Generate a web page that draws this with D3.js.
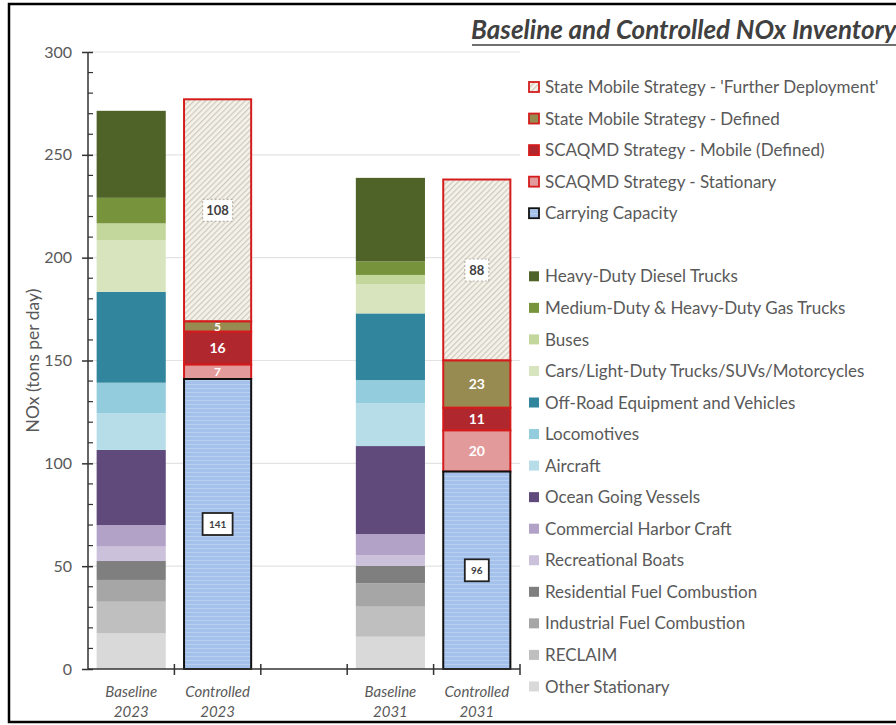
<!DOCTYPE html>
<html>
<head>
<meta charset="utf-8">
<script src="https://cdn.jsdelivr.net/npm/d3@7"></script>
<style>
  body { margin: 0; background: #fff; }
  svg { display: block; font-family: Lato, "Open Sans", sans-serif; }
</style>
</head>
<body>
<div id="plotSect"></div>
<script>
// Chart data (tons per day), stacks listed bottom to top //

let barKeys = ["b2023", "c2023", "gap", "b2031", "c2031"];
let barLabels = {
    b2023: ["Baseline", "2023"],
    c2023: ["Controlled", "2023"],
    b2031: ["Baseline", "2031"],
    c2031: ["Controlled", "2031"]
};

let baselineSources = [
    "Other Stationary", "RECLAIM", "Industrial Fuel Combustion", "Residential Fuel Combustion",
    "Recreational Boats", "Commercial Harbor Craft", "Ocean Going Vessels", "Aircraft",
    "Locomotives", "Off-Road Equipment and Vehicles", "Cars/Light-Duty Trucks/SUVs/Motorcycles",
    "Buses", "Medium-Duty & Heavy-Duty Gas Trucks", "Heavy-Duty Diesel Trucks"
];
let baselineColors = [
    "#d9d9d9", "#bfbfbf", "#a6a6a6", "#7f7f7f",
    "#ccc1da", "#b3a2c7", "#604a7b", "#b7dee8",
    "#93cddd", "#31859c", "#d7e4bd",
    "#c3d69b", "#77933c", "#4f6228"
];
let baseline2023 = [17.3, 15.4, 10.6, 9.2, 7.0, 10.5, 36.5, 17.8, 14.9, 44.2, 25.0, 8.3, 12.4, 42.3];
let baseline2031 = [15.7, 14.6, 11.4, 8.4, 5.3, 10.2, 42.8, 20.8, 11.3, 32.4, 14.3, 4.4, 6.6, 40.6];

let controlledSources = [
    "Carrying Capacity", "SCAQMD Strategy - Stationary", "SCAQMD Strategy - Mobile (Defined)",
    "State Mobile Strategy - Defined", "State Mobile Strategy - 'Further Deployment'"
];
let controlledFills = ["url(#stripes)", "#e39a9b", "#b0272d", "#978b52", "url(#hatch)"];
let controlledStrokes = ["#111", "#d41c1c", "#d41c1c", "#d41c1c", "#d41c1c"];
let controlled2023 = [141, 7, 16, 5, 108];
let controlled2031 = [96, 20, 11, 23, 88];

let yTicks = [0, 50, 100, 150, 200, 250, 300];

// Chart setup //

let SVGwidth = 896, SVGheight = 725;
let plotLeft = 88, plotRight = 520, plotTop = 52, plotBottom = 669;

let svg = d3.select("#plotSect").append("svg")
    .attr("width", SVGwidth)
    .attr("height", SVGheight);

let defs = svg.append("defs");
let stripes = defs.append("pattern")
    .attr("id", "stripes")
    .attr("patternUnits", "userSpaceOnUse")
    .attr("width", 8).attr("height", 4);
stripes.append("rect").attr("width", 8).attr("height", 4).attr("fill", "#a4c1eb");
stripes.append("rect").attr("y", 0).attr("width", 8).attr("height", 1).attr("fill", "#bad0f1");

let hatch = defs.append("pattern")
    .attr("id", "hatch")
    .attr("patternUnits", "userSpaceOnUse")
    .attr("width", 4).attr("height", 4)
    .attr("patternTransform", "rotate(-45)");
hatch.append("rect").attr("width", 4).attr("height", 4).attr("fill", "#f4f2ea");
hatch.append("rect").attr("width", 4).attr("height", 1.2).attr("fill", "#cfc9bb");

// outer frame
svg.append("rect")
    .attr("x", 9).attr("y", 4)
    .attr("width", 900).attr("height", 718)
    .attr("fill", "none")
    .attr("stroke", "#000")
    .attr("stroke-width", 2.5);

let xScale = d3.scaleBand()
    .domain(barKeys)
    .range([plotLeft, plotRight])
    .paddingInner(0.2)
    .paddingOuter(0.1);

let yScale = d3.scaleLinear()
    .domain([0, 300])
    .range([plotBottom, plotTop]);

// gridlines
svg.append("g")
    .selectAll("line")
    .data(yTicks.slice(1))
    .enter().append("line")
    .attr("x1", plotLeft).attr("x2", plotRight)
    .attr("y1", function(d) { return yScale(d); })
    .attr("y2", function(d) { return yScale(d); })
    .attr("stroke", "#e3e3e3")
    .attr("stroke-width", 1.2);

// stacked bars
let baselineRows = [
    Object.assign({bar: "b2023"}, Object.fromEntries(baselineSources.map(function(s, i) { return [s, baseline2023[i]]; }))),
    Object.assign({bar: "b2031"}, Object.fromEntries(baselineSources.map(function(s, i) { return [s, baseline2031[i]]; })))
];
let controlledRows = [
    Object.assign({bar: "c2023"}, Object.fromEntries(controlledSources.map(function(s, i) { return [s, controlled2023[i]]; }))),
    Object.assign({bar: "c2031"}, Object.fromEntries(controlledSources.map(function(s, i) { return [s, controlled2031[i]]; })))
];

let baselineStack = d3.stack().keys(baselineSources)(baselineRows);
let controlledStack = d3.stack().keys(controlledSources)(controlledRows);

svg.append("g")
    .selectAll("g")
    .data(baselineStack)
    .enter().append("g")
    .attr("fill", function(d, i) { return baselineColors[i]; })
    .selectAll("rect")
    .data(function(d) { return d; })
    .enter().append("rect")
    .attr("x", function(d) { return xScale(d.data.bar); })
    .attr("width", xScale.bandwidth())
    .attr("y", function(d) { return yScale(d[1]); })
    .attr("height", function(d) { return yScale(d[0]) - yScale(d[1]); });

// controlled: draw carrying capacity last so its black outline sits on top
let controlledOrder = [4, 3, 2, 1, 0];
let ctrlGroups = svg.append("g")
    .selectAll("g")
    .data(controlledOrder.map(function(i) { return {idx: i, layer: controlledStack[i]}; }))
    .enter().append("g");

ctrlGroups.selectAll("rect")
    .data(function(d) { return d.layer.map(function(p) { return {idx: d.idx, p: p}; }); })
    .enter().append("rect")
    .attr("x", function(d) { return xScale(d.p.data.bar) + 1; })
    .attr("width", xScale.bandwidth() - 2)
    .attr("y", function(d) { return yScale(d.p[1]); })
    .attr("height", function(d) { return yScale(d.p[0]) - yScale(d.p[1]); })
    .attr("fill", function(d) { return controlledFills[d.idx]; })
    .attr("stroke", function(d) { return controlledStrokes[d.idx]; })
    .attr("stroke-width", 2);

// value labels on controlled bars
let labelData = [];
controlledStack.forEach(function(layer, i) {
    layer.forEach(function(p) {
        labelData.push({idx: i, bar: p.data.bar, v: p[1] - p[0], mid: (p[0] + p[1]) / 2});
    });
});

let boxed = labelData.filter(function(d) { return d.idx == 0 || d.idx == 4; });
let plain = labelData.filter(function(d) { return d.idx > 0 && d.idx < 4; });

let boxG = svg.append("g").selectAll("g")
    .data(boxed)
    .enter().append("g")
    .attr("transform", function(d) {
        return "translate(" + (xScale(d.bar) + xScale.bandwidth() / 2) + "," + yScale(d.mid) + ")";
    });
boxG.append("rect")
    .attr("x", function(d) { return d.v >= 100 ? -15 : -12; })
    .attr("y", -11)
    .attr("width", function(d) { return d.v >= 100 ? 30 : 24; })
    .attr("height", 22)
    .attr("fill", "#fff")
    .attr("stroke", function(d) { return d.idx == 0 ? "#222" : "#b9b3a6"; })
    .attr("stroke-width", function(d) { return d.idx == 0 ? 1.8 : 1.2; })
    .attr("stroke-dasharray", function(d) { return d.idx == 0 ? null : "2,2"; });
boxG.append("text")
    .attr("dy", "0.36em")
    .attr("text-anchor", "middle")
    .attr("font-size", function(d) { return d.idx == 0 ? 10 : 13; })
    .attr("font-weight", "bold")
    .attr("fill", "#404040")
    .text(function(d) { return Math.round(d.v); });

svg.append("g").selectAll("text")
    .data(plain)
    .enter().append("text")
    .attr("x", function(d) { return xScale(d.bar) + xScale.bandwidth() / 2; })
    .attr("y", function(d) { return yScale(d.mid); })
    .attr("dy", "0.36em")
    .attr("text-anchor", "middle")
    .attr("font-size", function(d) { return d.v < 8 ? 12 : 14; })
    .attr("font-weight", "bold")
    .attr("fill", "#fff")
    .text(function(d) { return Math.round(d.v); });

// y axis
let yAxis = d3.axisLeft(yScale)
    .tickValues(yTicks)
    .tickSize(6)
    .tickPadding(10);
let yAxisG = svg.append("g")
    .attr("transform", "translate(" + plotLeft + ",0)")
    .call(yAxis);
yAxisG.select(".domain").remove();
yAxisG.append("line")
    .attr("y1", plotTop).attr("y2", plotBottom)
    .attr("stroke", "#333").attr("stroke-width", 1.5);
yAxisG.selectAll(".tick line")
    .attr("x1", 5).attr("x2", -6)
    .attr("stroke", "#333").attr("stroke-width", 1.5);
yAxisG.selectAll(".tick text")
    .attr("font-size", 16)
    .attr("fill", "#595959")
    .attr("font-family", "Lato, sans-serif");
yAxisG.selectAll(".minor")
    .data(d3.range(10, 300, 10).filter(function(v) { return v % 50 != 0; }))
    .enter().append("line")
    .attr("class", "minor")
    .attr("x1", 0).attr("x2", 5)
    .attr("y1", function(d) { return yScale(d); })
    .attr("y2", function(d) { return yScale(d); })
    .attr("stroke", "#333").attr("stroke-width", 1.2);

svg.append("text")
    .attr("transform", "translate(33," + ((plotTop + plotBottom) / 2) + ") rotate(-90)")
    .attr("text-anchor", "middle")
    .attr("dy", "0.35em")
    .attr("font-size", 17.5)
    .attr("fill", "#595959")
    .text("NOx (tons per day)");

// x axis
let step = xScale.step();
let xBounds = d3.range(barKeys.length + 1).map(function(i) { return plotLeft + i * step; });
let xAxisG = svg.append("g");
xAxisG.append("line")
    .attr("x1", plotLeft).attr("x2", plotRight)
    .attr("y1", plotBottom).attr("y2", plotBottom)
    .attr("stroke", "#333").attr("stroke-width", 1.5);
xAxisG.selectAll(".xt")
    .data(xBounds.slice(1))
    .enter().append("line")
    .attr("class", "xt")
    .attr("x1", function(d) { return d; }).attr("x2", function(d) { return d; })
    .attr("y1", plotBottom - 5).attr("y2", plotBottom + 6)
    .attr("stroke", "#333").attr("stroke-width", 1.5);

let xLab = xAxisG.selectAll(".xl")
    .data(barKeys.filter(function(k) { return barLabels[k]; }))
    .enter().append("text")
    .attr("class", "xl")
    .attr("x", function(d) { return xScale(d) + xScale.bandwidth() / 2; })
    .attr("y", 697)
    .attr("text-anchor", "middle")
    .attr("font-size", 15)
    .attr("font-style", "italic")
    .attr("fill", "#595959");
xLab.append("tspan")
    .attr("x", function(d) { return xScale(d) + xScale.bandwidth() / 2; })
    .text(function(d) { return barLabels[d][0]; });
xLab.append("tspan")
    .attr("x", function(d) { return xScale(d) + xScale.bandwidth() / 2; })
    .attr("dy", 20)
    .text(function(d) { return barLabels[d][1]; });

// title
let title = svg.append("text")
    .attr("x", 471)
    .attr("y", 39)
    .attr("font-size", 26)
    .attr("font-weight", "bold")
    .attr("font-style", "italic")
    .attr("fill", "#404040")
    .text("Baseline and Controlled NOx Inventory");
let tb = title.node().getBBox();
svg.append("line")
    .attr("x1", tb.x + 1).attr("x2", tb.x + tb.width)
    .attr("y1", 45).attr("y2", 45)
    .attr("stroke", "#404040").attr("stroke-width", 1.6);

// legend
let legendItems = [];
controlledSources.slice().reverse().forEach(function(s) {
    let i = controlledSources.indexOf(s);
    legendItems.push({name: s, fill: controlledFills[i], stroke: controlledStrokes[i]});
});
legendItems.push(null);
baselineSources.slice().reverse().forEach(function(s) {
    let i = baselineSources.indexOf(s);
    legendItems.push({name: s, fill: baselineColors[i], stroke: null});
});

let legendY0 = 87, legendStep = 31.55;
let legend = svg.selectAll(".legend")
    .data(legendItems)
    .enter().append("g")
    .attr("class", "legend")
    .attr("transform", function(d, i) { return "translate(529," + (legendY0 + i * legendStep) + ")"; })
    .filter(function(d) { return d != null; });

legend.append("rect")
    .attr("x", 0).attr("y", -5)
    .attr("width", 10).attr("height", 10)
    .attr("fill", function(d) { return d.fill; })
    .attr("stroke", function(d) { return d.stroke; })
    .attr("stroke-width", function(d) { return d.stroke ? 1.8 : 0; });

legend.append("text")
    .attr("x", 16)
    .attr("dy", "0.36em")
    .attr("font-size", 17)
    .attr("fill", "#595959")
    .text(function(d) { return d.name; });
</script>
</body>
</html>
